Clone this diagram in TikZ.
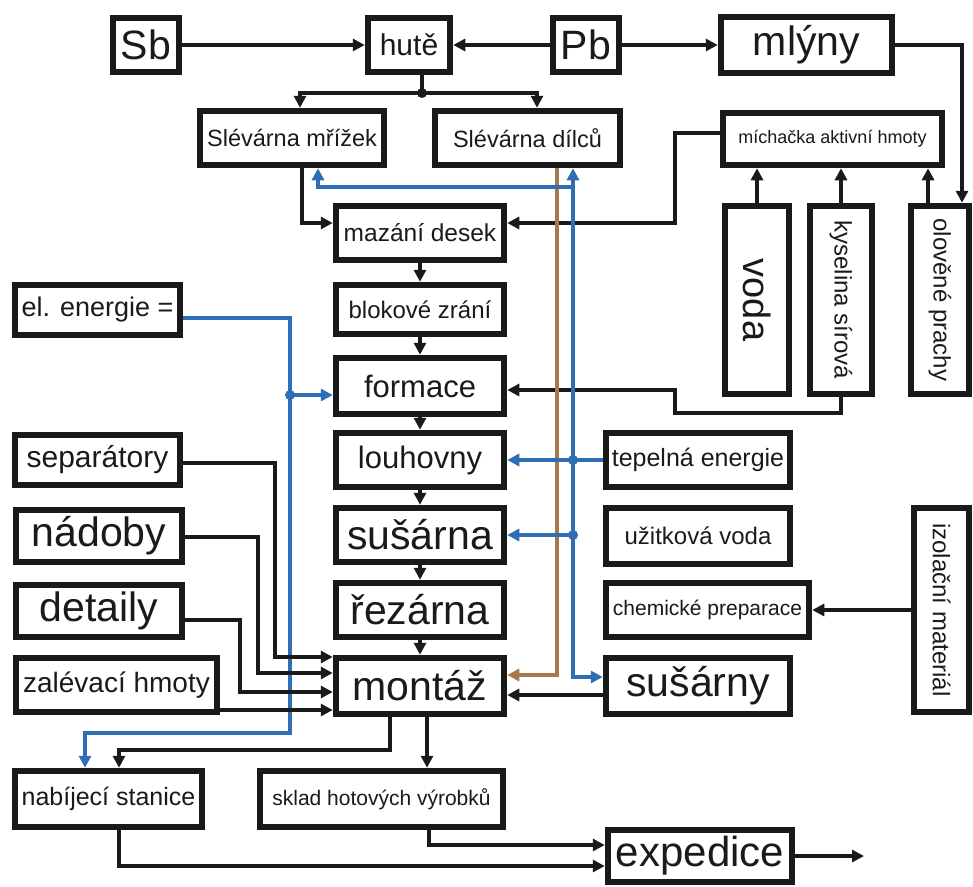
\documentclass[tikz,border=0pt]{standalone}
\usepackage{fontspec}
\setmainfont{Liberation Sans}
\usepackage{graphicx}
\usetikzlibrary{arrows.meta}
\definecolor{bl}{HTML}{2F6DB5}
\definecolor{brn}{HTML}{A57A4F}
\definecolor{ink}{HTML}{1A1A1A}
\newcommand\fsz[1]{\fontsize{#1}{#1}\selectfont}
\begin{document}
\begin{tikzpicture}[x=1pt,y=-1pt,
  bx/.style={draw=ink,line width=6.5pt,fill=white,inner sep=0pt,align=center,text=ink},
  arr/.style={draw=ink,line width=4.2pt,-{Triangle[length=12pt,width=12pt]}},
  barr/.style={draw=bl,line width=4pt,-{Triangle[length=12pt,width=12pt]}},
  brarr/.style={draw=brn,line width=4pt,-{Triangle[length=12pt,width=12pt]}},
  dot/.style={circle,inner sep=0pt,minimum size=10pt}]
\useasboundingbox (0,0) rectangle (973,886);

% ---- boxes
\node[bx,minimum width=66pt,minimum height=54pt] (Sb) at (146,45) {\fsz{41}Sb};
\node[bx,minimum width=82pt,minimum height=54pt] (hute) at (409,45) {\fsz{30}hutě};
\node[bx,minimum width=66pt,minimum height=54pt] (Pb) at (586,45) {\fsz{41}Pb};
\node[bx,minimum width=171pt,minimum height=56pt] (mlyny) at (806.5,45) {\fsz{41}mlýny};
\node[bx,minimum width=184pt,minimum height=54pt] (SlM) at (292,138) {\fsz{23.5}Slévárna mřížek};
\node[bx,minimum width=185pt,minimum height=54pt] (SlD) at (527.5,138) {\fsz{23.5}Slévárna dílců};
\node[bx,minimum width=219pt,minimum height=52pt] (mich) at (832.5,139) {\fsz{18}míchačka aktivní hmoty};
\node[bx,minimum width=64pt,minimum height=188pt] (voda) at (757,300) {\rotatebox{-90}{\fsz{38}voda}};
\node[bx,minimum width=62pt,minimum height=188pt] (kys) at (841,300) {\rotatebox{-90}{\fsz{24}kyselina sírová}};
\node[bx,minimum width=58pt,minimum height=188pt] (olov) at (940,300) {\rotatebox{-90}{\fsz{24}olověné prachy}};
\node[bx,minimum width=168pt,minimum height=54pt] (mazani) at (420,233) {\fsz{24.5}mazání desek};
\node[bx,minimum width=168pt,minimum height=49pt] (blok) at (420,309.5) {\fsz{24}blokové zrání};
\node[bx,minimum width=168pt,minimum height=56pt] (formace) at (420,386) {\fsz{31}formace};
\node[bx,minimum width=168pt,minimum height=54pt] (louh) at (420,460) {\fsz{31}louhovny};
\node[bx,minimum width=168pt,minimum height=54pt] (susarna) at (420,535) {\fsz{41}sušárna};
\node[bx,minimum width=168pt,minimum height=54pt] (rezarna) at (420,610) {\fsz{41}řezárna};
\node[bx,minimum width=168pt,minimum height=56pt] (montaz) at (420,686) {\fsz{41}montáž};
\node[bx,minimum width=184pt,minimum height=54pt] (tepel) at (698,460) {\fsz{25}tepelná energie};
\node[bx,minimum width=184pt,minimum height=56pt] (uzitk) at (698,536) {\fsz{24}užitková voda};
\node[bx,minimum width=203pt,minimum height=54pt] (chem) at (707.5,610) {\fsz{21}chemické preparace};
\node[bx,minimum width=184pt,minimum height=56pt] (susarny) at (698,686) {\fsz{41}sušárny};
\node[bx,minimum width=55pt,minimum height=204pt] (izol) at (941.5,610) {\rotatebox{-90}{\fsz{24}izolační materiál}};
\node[bx,minimum width=165pt,minimum height=50pt] (elen) at (97.5,310) {\fsz{27}el. energie =};
\node[bx,minimum width=165pt,minimum height=50pt] (separ) at (97.5,460) {\fsz{30}separátory};
\node[bx,minimum width=166pt,minimum height=52pt] (nadoby) at (99,536) {\fsz{41}nádoby};
\node[bx,minimum width=166pt,minimum height=52pt] (detaily) at (99,611) {\fsz{41}detaily};
\node[bx,minimum width=201pt,minimum height=54pt] (zalev) at (116.5,685) {\fsz{28}zalévací hmoty};
\node[bx,minimum width=187pt,minimum height=56pt] (nabij) at (108.5,799) {\fsz{25}nabíjecí stanice};
\node[bx,minimum width=243pt,minimum height=56pt] (sklad) at (381.5,799) {\fsz{21}sklad hotových výrobků};
\node[bx,minimum width=184pt,minimum height=52pt] (exped) at (700,856) {\fsz{42}expedice};
\coordinate (out) at (864,856);

% ---- top connectors
\draw[arr] (Sb.east) -- (hute.west);
\draw[arr] (Pb.west) -- (hute.east);
\draw[arr] (Pb.east) -- (mlyny.west);
\draw[arr] (mlyny.east) -| (962,0 |- olov.north);
\draw[arr] (422,0 |- hute.south) |- (300,93) -- (300,0 |- SlM.north);
\draw[arr] (422,93) -| (537,0 |- SlD.north);
\node[dot,fill=ink] (j1) at (422,93) {};
\draw[arr] (mich.west |- 0,133) -| (675,223) -- (mazani.east |- 0,223);
\draw[arr] (voda.north) -- (voda.north |- mich.south);
\draw[arr] (kys.north) -- (kys.north |- mich.south);
\draw[arr] (928,0 |- olov.north) -- (928,0 |- mich.south);
\draw[arr] (kys.south) |- (675,413) |- (formace.east |- 0,390);
\draw[arr] (302,0 |- SlM.south) |- (mazani.west |- 0,223);

% ---- central column
\draw[arr] (mazani.south) -- (blok.north);
\draw[arr] (blok.south) -- (formace.north);
\draw[arr] (formace.south) -- (louh.north);
\draw[arr] (louh.south) -- (susarna.north);
\draw[arr] (susarna.south) -- (rezarna.north);
\draw[arr] (rezarna.south) -- (montaz.north);

% ---- brown
\draw[brarr] (557,0 |- SlD.south) |- (montaz.east |- 0,675);

% ---- blue (heat)
\draw[barr] (tepel.west) -- (louh.east);
\draw[barr] (573,460) -- (573,0 |- SlD.south);
\draw[barr] (573,187) -| (318,0 |- SlM.south);
\draw[barr] (573,535) -- (susarna.east);
\draw[barr] (573,460) |- (susarny.west |- 0,677);
\node[dot,fill=bl] (j2) at (573,460) {};
\node[dot,fill=bl] (j3) at (573,535) {};

% ---- right side
\draw[arr] (susarny.west |- 0,695) -- (montaz.east |- 0,695);
\draw[arr] (izol.west |- chem.east) -- (chem.east);

% ---- left side
\draw[barr] (elen.east |- 0,318) -| (290,733) -| (85,0 |- nabij.north);
\draw[barr] (290,395) -- (formace.west |- 0,395);
\node[dot,fill=bl] (j4) at (290,395) {};
\draw[arr] (separ.east |- 0,463) -| (275,657) -- (montaz.west |- 0,657);
\draw[arr] (nadoby.east |- 0,537) -| (258,673) -- (montaz.west |- 0,673);
\draw[arr] (detaily.east |- 0,620) -| (240,692) -- (montaz.west |- 0,692);
\draw[arr] (zalev.east |- 0,710) -- (montaz.west |- 0,710);

% ---- bottom
\draw[arr] (390,0 |- montaz.south) |- (119,750) -- (119,0 |- nabij.north);
\draw[arr] (427,0 |- montaz.south) -- (427,0 |- sklad.north);
\draw[arr] (119,0 |- nabij.south) |- (exped.west |- 0,866);
\draw[arr] (429,0 |- sklad.south) |- (exped.west |- 0,845);
\draw[arr] (exped.east) -- (out);
\end{tikzpicture}
\end{document}
